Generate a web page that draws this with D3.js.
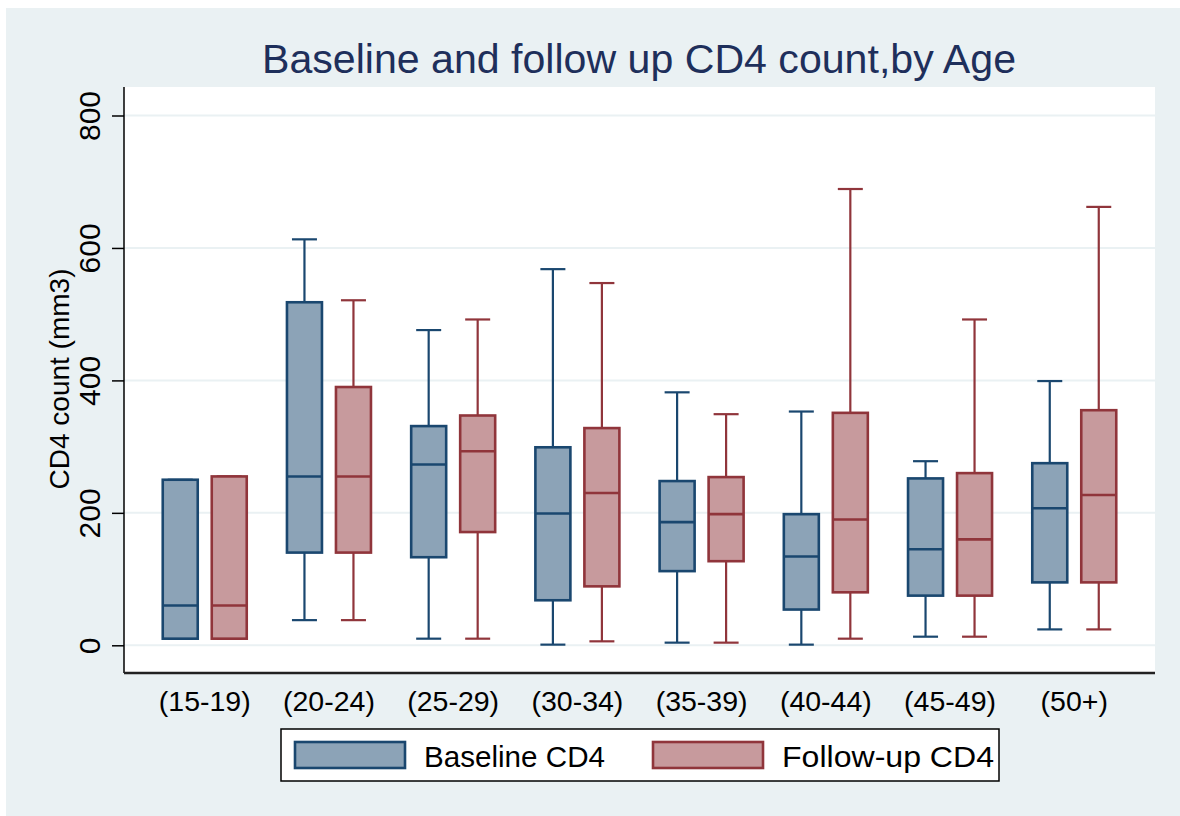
<!DOCTYPE html>
<html>
<head>
<meta charset="utf-8">
<script src="https://cdn.jsdelivr.net/npm/d3@7"></script>
<style>
  html, body { margin: 0; padding: 0; background: #ffffff; }
  svg { display: block; font-family: "Liberation Sans", Arial, sans-serif; }
</style>
</head>
<body>
<svg id="chart" width="1180" height="816"></svg>
<script>
// Age groups and the two CD4 measurements
const ageGroups = ["(15-19)", "(20-24)", "(25-29)", "(30-34)", "(35-39)", "(40-44)", "(45-49)", "(50+)"];
const seriesNames = ["Baseline CD4", "Follow-up CD4"];

// Five-number summaries: [lower whisker, Q1, median, Q3, upper whisker]
const baselineStats = [
  [10, 10, 60, 250, 250],
  [38, 140, 255, 518, 613],
  [10, 133, 273, 331, 476],
  [1, 68, 199, 299, 568],
  [4, 112, 186, 248, 382],
  [1, 54, 134, 198, 353],
  [13, 75, 145, 252, 278],
  [24, 95, 207, 275, 399]
];
const followupStats = [
  [10, 10, 60, 255, 255],
  [38, 140, 255, 390, 521],
  [10, 171, 293, 347, 492],
  [6, 89, 230, 328, 547],
  [4, 127, 198, 254, 349],
  [10, 80, 190, 351, 689],
  [13, 75, 160, 260, 492],
  [24, 95, 227, 355, 662]
];
const yTicks = [0, 200, 400, 600, 800];

const colors = {
  stroke: ["#1a476f", "#90353b"],
  fill: ["#8ca3b7", "#c79a9d"]
};

const svg = d3.select("#chart");

// Outer graph region
svg.append("rect")
  .attr("x", 6).attr("y", 8).attr("width", 1174).attr("height", 808)
  .attr("fill", "#eaf1f3");

const plot = { left: 124, right: 1155, top: 87, bottom: 673 };

svg.append("rect")
  .attr("x", plot.left).attr("y", plot.top)
  .attr("width", plot.right - plot.left).attr("height", plot.bottom - plot.top)
  .attr("fill", "#ffffff");

const x = d3.scaleBand()
  .domain(ageGroups)
  .range([plot.left, plot.right])
  .paddingInner(0)
  .paddingOuter(0.15);

const y = d3.scaleLinear().domain([0, 800]).range([645.3, 115.5]);

// Horizontal grid lines
svg.append("g")
  .selectAll("line")
  .data(yTicks)
  .join("line")
  .attr("x1", plot.left).attr("x2", plot.right)
  .attr("y1", d => y(d)).attr("y2", d => y(d))
  .attr("stroke", "#eaf1f3").attr("stroke-width", 2);

// Y axis
const yAxis = svg.append("g")
  .attr("transform", `translate(${plot.left},0)`)
  .call(d3.axisLeft(y).tickValues(yTicks).tickSize(12).tickSizeOuter(0).tickPadding(0).tickFormat(d3.format("d")));
yAxis.select(".domain").remove();
yAxis.selectAll(".tick line").attr("stroke", "#000").attr("stroke-width", 1.5);
yAxis.selectAll(".tick text")
  .attr("font-size", 30)
  .attr("fill", "#000")
  .attr("text-anchor", "middle")
  .attr("x", 0).attr("dy", 0)
  .attr("transform", "translate(-24,0) rotate(-90)");

svg.append("line")
  .attr("x1", plot.left).attr("x2", plot.left)
  .attr("y1", plot.top).attr("y2", plot.bottom)
  .attr("stroke", "#000").attr("stroke-width", 1.5);

// X axis
const xAxis = svg.append("g")
  .attr("transform", `translate(0,${plot.bottom})`)
  .call(d3.axisBottom(x).tickSize(0).tickPadding(0));
xAxis.select(".domain").attr("d", `M${plot.left},0H${plot.right}`)
  .attr("stroke", "#222").attr("stroke-width", 2.5);
xAxis.selectAll(".tick text")
  .attr("font-size", 28.5)
  .attr("fill", "#000")
  .attr("y", 38).attr("dy", 0);

// Box plots
const offsets = [-24.5, 24.5];
const boxW = 35;
const capW = 25;

[baselineStats, followupStats].forEach((stats, s) => {
  const g = svg.append("g");
  const groups = g.selectAll("g")
    .data(stats.map((d, i) => ({ cat: ageGroups[i], v: d })))
    .join("g")
    .attr("transform", d => `translate(${x(d.cat) + x.bandwidth() / 2 + offsets[s]},0)`);

  // upper whisker
  groups.append("line")
    .attr("x1", 0).attr("x2", 0)
    .attr("y1", d => y(d.v[4])).attr("y2", d => y(d.v[3]))
    .attr("stroke", colors.stroke[s]).attr("stroke-width", 2.2);
  groups.append("line")
    .attr("x1", -capW / 2).attr("x2", capW / 2)
    .attr("y1", d => y(d.v[4])).attr("y2", d => y(d.v[4]))
    .attr("stroke", colors.stroke[s]).attr("stroke-width", 2.2);
  // lower whisker
  groups.append("line")
    .attr("x1", 0).attr("x2", 0)
    .attr("y1", d => y(d.v[1])).attr("y2", d => y(d.v[0]))
    .attr("stroke", colors.stroke[s]).attr("stroke-width", 2.2);
  groups.append("line")
    .attr("x1", -capW / 2).attr("x2", capW / 2)
    .attr("y1", d => y(d.v[0])).attr("y2", d => y(d.v[0]))
    .attr("stroke", colors.stroke[s]).attr("stroke-width", 2.2);
  // interquartile box
  groups.append("rect")
    .attr("x", -boxW / 2).attr("width", boxW)
    .attr("y", d => y(d.v[3])).attr("height", d => y(d.v[1]) - y(d.v[3]))
    .attr("fill", colors.fill[s])
    .attr("stroke", colors.stroke[s]).attr("stroke-width", 2.6);
  // median
  groups.append("line")
    .attr("x1", -boxW / 2).attr("x2", boxW / 2)
    .attr("y1", d => y(d.v[2])).attr("y2", d => y(d.v[2]))
    .attr("stroke", colors.stroke[s]).attr("stroke-width", 2.6);
});

// Title
svg.append("text")
  .attr("x", 639).attr("y", 73)
  .attr("text-anchor", "middle")
  .attr("font-size", 40)
  .attr("fill", "#1e2f5b")
  .attr("textLength", 754)
  .attr("lengthAdjust", "spacingAndGlyphs")
  .text("Baseline and follow up CD4 count,by Age");

// Y axis title
svg.append("text")
  .attr("transform", "translate(69,379) rotate(-90)")
  .attr("text-anchor", "middle")
  .attr("font-size", 28)
  .attr("fill", "#000")
  .text("CD4 count (mm3)");

// Legend
const legend = svg.append("g");
legend.append("rect")
  .attr("x", 281).attr("y", 729).attr("width", 718).attr("height", 52)
  .attr("fill", "#ffffff").attr("stroke", "#000").attr("stroke-width", 1.5);

const legendItems = [
  { name: seriesNames[0], sx: 295, tx: 424, len: 181 },
  { name: seriesNames[1], sx: 653, tx: 782, len: 212 }
];
legendItems.forEach((it, s) => {
  legend.append("rect")
    .attr("x", it.sx).attr("y", 742).attr("width", 110).attr("height", 26)
    .attr("fill", colors.fill[s]).attr("stroke", colors.stroke[s]).attr("stroke-width", 2.6);
  legend.append("text")
    .attr("x", it.tx).attr("y", 767)
    .attr("font-size", 29)
    .attr("fill", "#000")
    .attr("textLength", it.len)
    .attr("lengthAdjust", "spacingAndGlyphs")
    .text(it.name);
});
</script>
</body>
</html>
